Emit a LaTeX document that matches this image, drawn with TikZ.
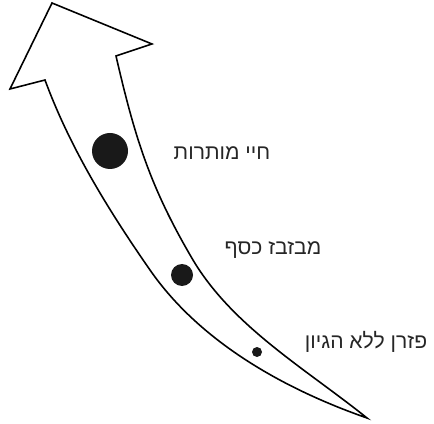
\documentclass[tikz,border=0pt]{standalone}
\usepackage{fontspec}
\newfontfamily\hebfont[Script=Hebrew]{Liberation Sans}
\TeXXeTstate=1
\usepackage{tikz}

\begin{document}
\begin{tikzpicture}[
  x=0.2mm, y=-0.2mm,
  font=\hebfont\fontsize{12}{14}\selectfont,
  dot/.style={circle, fill=black!90, inner sep=0pt},
  lbl/.style={inner sep=1pt, text=black!85},
  outline/.style={line width=0.9pt, line join=miter}
]
\useasboundingbox (0,0) rectangle (434,424);
% curved arrow: head at the top left, shaft tapering to a point at the bottom right
\draw[outline] (367,418) .. controls (284,389) and (200,342) .. (150,270)
  .. controls (109,211) and (70,148) .. (45,80)
  -- (10,89) -- (52,3) -- (152,44) -- (116,56)
  .. controls (135,138) and (150,187) .. (193,260)
  .. controls (233,327) and (306,369) .. cycle;
% stages along the arrow, largest at the top
\node[dot, minimum size=7.2mm] (big) at (110,151) {};
\node[dot, minimum size=4.4mm] (mid) at (182,275) {};
\node[dot, minimum size=2mm] (small) at (257,352) {};
\node[lbl] (lbig) at (222,153) {\beginR חיי מותרות\endR};
\node[lbl] (lmid) at (273,250) {\beginR מבזבז כסף\endR};
\node[lbl] (lsmall) at (366,342) {\beginR פזרן ללא הגיון\endR};
\end{tikzpicture}
\end{document}
